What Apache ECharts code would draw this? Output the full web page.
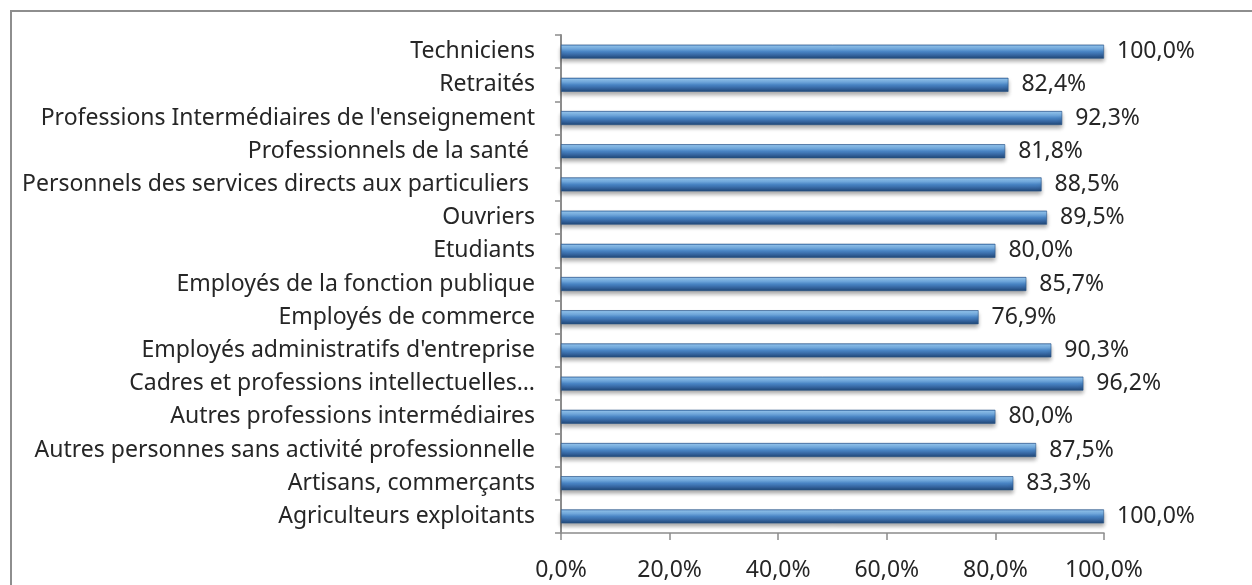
<!DOCTYPE html>
<html>
<head>
<meta charset="utf-8">
<script src="https://cdn.jsdelivr.net/npm/echarts@6/dist/echarts.min.js"></script>
<style>
	html, body { margin: 0; padding: 0; background: #fff; overflow: hidden; }
	#frame { position: absolute; left: 10px; top: 10px; width: 1400px; height: 800px; border: 2px solid #8e8e8e; box-sizing: border-box; }
	#chart { position: absolute; left: 0; top: 0; width: 1252px; height: 585px; }
</style>
</head>
<body>
<div id="frame"></div>
<div id="chart"></div>
<script>
// catégories, de bas en haut (ordre Excel)
var categories = [
	'Agriculteurs exploitants',
	'Artisans, commerçants',
	'Autres personnes sans activité professionnelle',
	'Autres professions intermédiaires',
	'Cadres et professions intellectuelles…',
	"Employés administratifs d'entreprise",
	'Employés de commerce',
	'Employés de la fonction publique',
	'Etudiants',
	'Ouvriers',
	'Personnels des services directs aux particuliers ',
	'Professionnels de la santé ',
	"Professions Intermédiaires de l'enseignement",
	'Retraités',
	'Techniciens'
];
var values = [100.0, 83.3, 87.5, 80.0, 96.2, 90.3, 76.9, 85.7, 80.0, 89.5, 88.5, 81.8, 92.3, 82.4, 100.0];
var xTicks = [0, 20, 40, 60, 80, 100];

function pct(v) {
	return v.toFixed(1).replace('.', ',') + '%';
}

;(function(){
	var chart = echarts.init(document.getElementById('chart'));
	var font = '"Noto Sans", "Open Sans", sans-serif';

	// dégradé "3D" façon Excel
	var barColor = new echarts.graphic.LinearGradient(0, 0, 0, 1, [
		{offset: 0, color: '#3f75b5'},
		{offset: 0.1, color: '#8fc2ee'},
		{offset: 0.3, color: '#74ade3'},
		{offset: 0.5, color: '#4a86c6'},
		{offset: 0.75, color: '#3565a0'},
		{offset: 1, color: '#1f4675'}
	]);

	var option = {
		animation: false,
		grid: {
			left: 561,
			right: 148,
			top: 35,
			bottom: 52
		},
		xAxis: {
			type: 'value',
			min: xTicks[0],
			max: xTicks[xTicks.length - 1],
			interval: 20,
			splitLine: { show: false },
			axisLine: { show: true, lineStyle: { color: '#8c8c8c', width: 1.5 } },
			axisTick: { show: true, length: 7, lineStyle: { color: '#8c8c8c', width: 1.5 } },
			axisLabel: {
				margin: 26,
				color: '#262626',
				fontFamily: font,
				fontSize: 23,
				formatter: function (v) { return pct(v); }
			}
		},
		yAxis: {
			type: 'category',
			data: categories,
			boundaryGap: true,
			axisLine: { show: true, lineStyle: { color: '#8c8c8c', width: 2 } },
			axisTick: { show: true, length: 6, alignWithLabel: false, lineStyle: { color: '#8c8c8c', width: 1.5 } },
			axisLabel: {
				margin: 26,
				color: '#262626',
				fontFamily: font,
				fontSize: 23,
				interval: 0
			}
		},
		series: [
			{
				type: 'bar',
				data: values,
				barWidth: 14,
				itemStyle: {
					color: barColor,
					borderColor: '#2a5688',
					borderWidth: 0.6,
					shadowColor: 'rgba(0, 0, 0, 0.35)',
					shadowBlur: 4,
					shadowOffsetY: 3
				},
				label: {
					show: true,
					position: 'right',
					distance: 13,
					color: '#262626',
					fontFamily: font,
					fontSize: 23,
					formatter: function (p) { return pct(p.value); }
				}
			}
		]
	};
	chart.setOption(option);
}());
</script>
</body>
</html>
